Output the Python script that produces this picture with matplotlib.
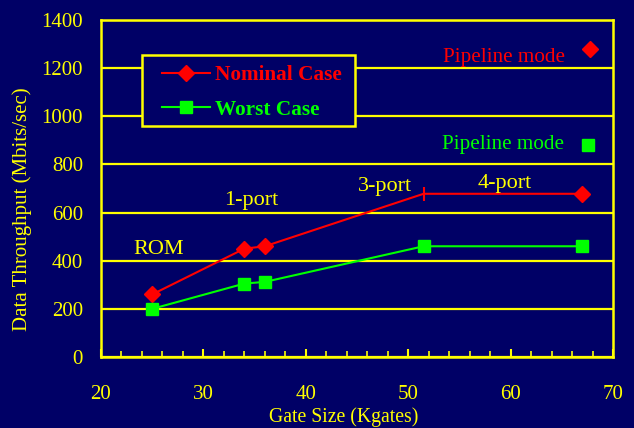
import matplotlib
matplotlib.use("Agg")
import matplotlib.pyplot as plt
from matplotlib.patches import Rectangle
from matplotlib.ticker import MultipleLocator

# data
gate_nominal = [25, 34, 36, 51.5, 67]
thr_nominal = [260, 450, 460, 678, 678]
gate_worst = [25, 34, 36, 51.5, 67]
thr_worst = [200, 305, 312, 460, 460]
pipe_nominal = (67.75, 1278)
pipe_worst = (67.6, 881)
port_labels = ["ROM", "1-port", "3-port", "4-port"]
port_pos = [(25.6, 428), (34.7, 631), (47.7, 690), (59.4, 701)]

BG = "#000066"
YEL = "#FFFF00"
RED = "#FF0000"
GRN = "#00FF00"

plt.rcParams["font.family"] = ["Liberation Serif", "DejaVu Serif"]

fig = plt.figure(figsize=(6.34, 4.28), dpi=100)
fig.patch.set_facecolor(BG)
ax = fig.add_axes([0.1593, 0.1659, 0.8076, 0.7874])
ax.set_facecolor(BG)

ax.set_xlim(20, 70)
ax.set_ylim(0, 1400)
ax.yaxis.set_major_locator(MultipleLocator(200))
ax.xaxis.set_major_locator(MultipleLocator(10))
ax.xaxis.set_minor_locator(MultipleLocator(2))
ax.grid(axis="y", color=YEL, linewidth=1.6)
ax.set_axisbelow(True)

for s in ax.spines.values():
    s.set_color(YEL)
    s.set_linewidth(1.8)

ax.tick_params(axis="x", which="major", direction="in", length=6, width=1.5,
               color=YEL, labelcolor=YEL, labelsize=15, pad=20)
ax.tick_params(axis="x", which="minor", direction="in", length=4, width=1.2,
               color=YEL)
ax.tick_params(axis="y", length=0, labelcolor=YEL, labelsize=15, pad=13)

# nominal line
ax.plot(gate_nominal, thr_nominal, color=RED, lw=1.5, marker="D", ms=8,
        markevery=[0, 1, 2, 4], label="Nominal Case")
ax.plot(gate_nominal[3], thr_nominal[3], color=RED, marker="|", ms=10, mew=1.5)
ax.plot(gate_worst, thr_worst, color=GRN, lw=1.5, marker="s", ms=8,
        label="Worst Case")

# pipeline mode points
ax.plot(*pipe_nominal, marker="D", color=RED, ms=8)
ax.plot(*pipe_worst, marker="s", color=GRN, ms=8)
ax.text(59.4, 1227, "Pipeline mode", color=RED, fontsize=15.2,
        ha="center", va="baseline")
ax.text(59.3, 862, "Pipeline mode", color=GRN, fontsize=15.2,
        ha="center", va="baseline")

for lab, (x, y) in zip(port_labels, port_pos):
    ax.text(x, y, lab, color=YEL, fontsize=16, ha="center", va="baseline")

ax.set_xlabel("Gate Size (Kgates)", color=YEL, fontsize=14.2)
ax.xaxis.set_label_coords(0.4746, -0.148)
ax.set_ylabel("Data Throughput (Mbits/sec)", color=YEL, fontsize=15)
ax.yaxis.set_label_coords(-0.135, 0.439)

# legend box drawn by hand
ax.add_patch(Rectangle((0.0801, 0.6855), 0.416, 0.2107, transform=ax.transAxes,
                       facecolor=BG, edgecolor=YEL, lw=1.8, zorder=3))
leg = ax.legend(loc="upper left", bbox_to_anchor=(0.119, 0.865),
                frameon=False, prop={"weight": "bold", "size": 15.3},
                handlelength=2.25, handletextpad=0.25, borderpad=0,
                labelspacing=0.66, borderaxespad=0)
leg.set_zorder(5)
for t, c in zip(leg.get_texts(), [RED, GRN]):
    t.set_color(c)

fig.savefig("out.png", dpi=100, facecolor=BG)
